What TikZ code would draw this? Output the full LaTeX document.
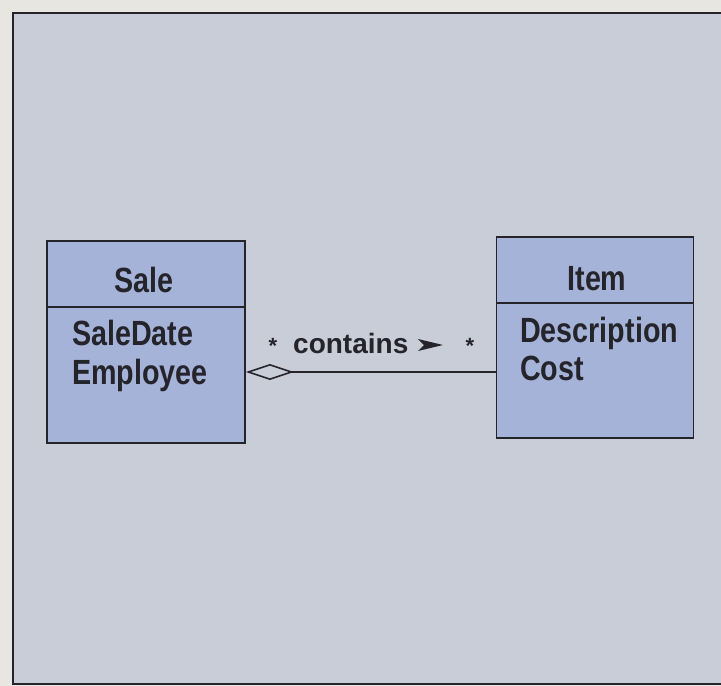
\documentclass[tikz,border=0pt]{standalone}
\usepackage{fontspec}
\setmainfont{Liberation Sans}
\newfontfamily\classfont{Liberation Sans}[FakeStretch=0.82]
\usetikzlibrary{arrows.meta}
\definecolor{paper}{HTML}{E8E6E1}
\definecolor{panel}{HTML}{C9CDD8}
\definecolor{boxfill}{HTML}{A5B3D9}
\definecolor{ink}{HTML}{24242A}
\tikzset{
  classbox/.style={draw=ink, line width=1.8pt, fill=boxfill, inner sep=0pt},
  classtext/.style={text=ink, inner sep=0pt, font=\classfont\bfseries\fontsize{35}{38}\selectfont},
  labeltext/.style={text=ink, inner sep=0pt, font=\bfseries\fontsize{28}{30}\selectfont},
  startext/.style={text=ink, inner sep=0pt, font=\bfseries\fontsize{22}{24}\selectfont},
  aggr/.style={draw=ink, line width=1.6pt, {Diamond[open, length=48pt, width=16pt, line width=1.6pt]}-}
}
\begin{document}
\begin{tikzpicture}[x=1pt,y=-1pt]
\useasboundingbox (0,0) rectangle (721,686);
\fill[paper] (0,0) rectangle (721,686);
\draw[ink, line width=1.6pt, fill=panel] (13,13) rectangle (722,684);
% Sale class
\node[classbox, minimum width=198pt, minimum height=66pt] (saleh) at (146,274) {};
\node[classbox, minimum width=198pt, minimum height=136pt] (saleb) at (146,375) {};
\node[classtext, anchor=base] (salename) at (144,292) {Sale};
\node[classtext, anchor=base west] (saleattr1) at (72,345) {SaleDate};
\node[classtext, anchor=base west] (saleattr2) at (72,384) {Employee};
% Item class
\node[classbox, minimum width=197pt, minimum height=66pt] (itemh) at (595,270) {};
\node[classbox, minimum width=197pt, minimum height=135pt] (itemb) at (595,370.5) {};
\node[classtext, anchor=base] (itemname) at (597,290) {Item};
\node[classtext, anchor=base west] (itemattr1) at (520,342) {Description};
\node[classtext, anchor=base west] (itemattr2) at (520,380) {Cost};
% association
\draw[aggr] ([yshift=3pt]saleb.east) -- ([yshift=3pt]saleb.east -| itemb.west);
\node[labeltext, anchor=base west] (contains) at (293,353) {contains};
\fill[ink] (418,339) -- (443,345) -- (418,351) -- (424,345) -- cycle;
\node[startext, anchor=base] (mult1) at (273,353) {*};
\node[startext, anchor=base] (mult2) at (470,353) {*};
\end{tikzpicture}
\end{document}
